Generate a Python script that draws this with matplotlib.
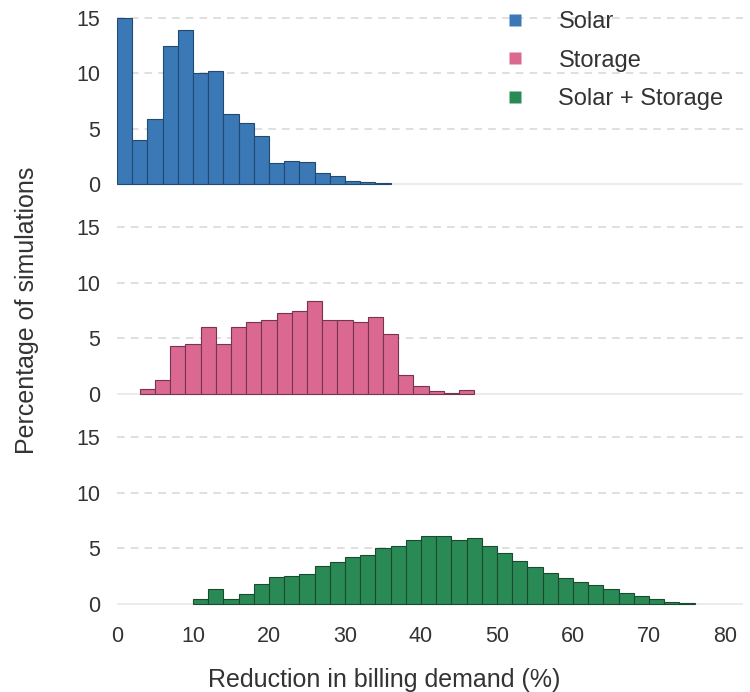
import matplotlib
matplotlib.use("Agg")
import matplotlib.pyplot as plt
from matplotlib.lines import Line2D
import numpy as np

plt.rcParams['font.family'] = ['Liberation Sans', 'DejaVu Sans']

# Histogram data: percentage of simulations per 2 % bin of demand reduction
bin_width = 2
solar_start = 0
solar_pct = [15.0, 4.0, 5.9, 12.5, 13.9, 10.0, 10.2, 6.3, 5.5, 4.3,
             1.9, 2.1, 2.0, 1.0, 0.75, 0.27, 0.21, 0.09]
storage_start = 3
storage_pct = [0.42, 1.2, 4.3, 4.45, 6.0, 4.5, 6.0, 6.45, 6.65, 7.3,
               7.45, 8.35, 6.65, 6.6, 6.45, 6.95, 5.4, 1.7, 0.7, 0.21,
               0.09, 0.3]
combined_start = 10
combined_pct = [0.45, 1.3, 0.42, 0.9, 1.77, 2.35, 2.52, 2.7, 3.4, 3.72,
                4.2, 4.4, 5.0, 5.2, 5.75, 6.12, 6.06, 5.7, 5.88, 5.2,
                4.56, 3.87, 3.3, 2.76, 2.31, 1.92, 1.71, 1.29, 0.96, 0.72,
                0.39, 0.18, 0.06]

series_names = ['Solar', 'Storage', 'Solar + Storage']
face_colors = ['#3a78b6', '#db6890', '#2a8a56']
edge_colors = ['#22496f', '#773450', '#1a4a30']

x_ticks = [0, 10, 20, 30, 40, 50, 60, 70, 80]
y_ticks = [0, 5, 10, 15]

W, H = 750, 692
fig = plt.figure(figsize=(W / 100, H / 100), dpi=100)

# panel geometry in pixels: zero line of each panel and pixels per percent
zero_px = [184.0, 393.5, 603.5]
ppu = 11.07
left_px, right_px = 117.0, 743.0
x_max = (right_px - left_px) / 7.6

starts = [solar_start, storage_start, combined_start]
values = [solar_pct, storage_pct, combined_pct]

axes = []
top_px = 0.0
for i in range(3):
    bottom_px = zero_px[i] + 0.5 * ppu
    y_top = (zero_px[i] - top_px) / ppu
    ax = fig.add_axes([left_px / W, 1 - bottom_px / H,
                       (right_px - left_px) / W, (bottom_px - top_px) / H])
    top_px = bottom_px

    heights = np.array(values[i])
    lefts = starts[i] + bin_width * np.arange(len(heights))
    ax.bar(lefts, heights, width=bin_width, align='edge',
           color=face_colors[i], edgecolor=edge_colors[i], linewidth=0.8,
           zorder=3)

    for y in y_ticks[1:]:
        ax.axhline(y, color='#d6d6d6', lw=1.1, ls=(0, (5, 4)), zorder=1)
    ax.axhline(0, color='#ececec', lw=1.5, zorder=1)

    ax.set_xlim(0, x_max)
    ax.set_ylim(-0.5, y_top)
    ax.set_yticks(y_ticks)
    ax.set_xticks(x_ticks)
    ax.tick_params(axis='both', length=0, labelsize=15.5, colors='#333333',
                   pad=12)
    if i < 2:
        ax.tick_params(axis='x', labelbottom=False)
    for s in ax.spines.values():
        s.set_visible(False)
    ax.patch.set_alpha(0)
    axes.append(ax)

fig.text(27 / W, 1 - 310 / H, 'Percentage of simulations', rotation=90,
         ha='center', va='center', fontsize=18, color='#333333')
fig.text(384 / W, 1 - 687 / H, 'Reduction in billing demand (%)',
         ha='center', va='baseline', fontsize=18, color='#333333')

handles = [Line2D([], [], marker='s', linestyle='none', markersize=8.5,
                  markerfacecolor=c, markeredgecolor='none')
           for c in face_colors]
axes[0].legend(handles, series_names, loc='upper left',
               bbox_to_anchor=(503 / W, 1 - 11 / H),
               bbox_transform=fig.transFigure, frameon=False,
               fontsize=17, labelcolor='#333333', handlelength=1.0,
               handletextpad=1.35, labelspacing=0.7, borderpad=0,
               borderaxespad=0)

fig.savefig('out.png', dpi=100)
